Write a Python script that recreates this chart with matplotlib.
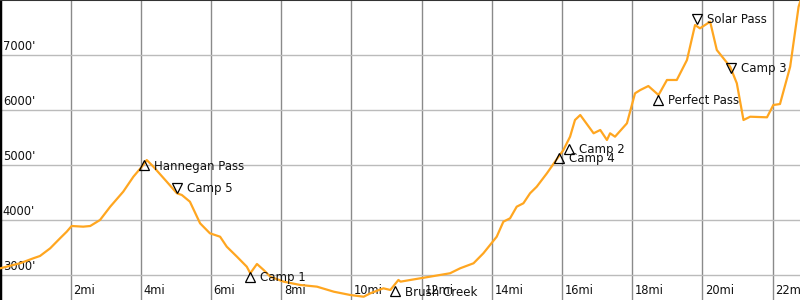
import matplotlib
matplotlib.use("Agg")
import matplotlib.pyplot as plt

# trail profile: distance (mi) and elevation (ft)
miles = [0.00, 0.56, 0.94, 1.13, 1.42, 1.70, 1.89, 2.03, 2.36, 2.56, 2.84, 3.13,
         3.50, 3.79, 4.03, 4.17, 4.36, 4.74, 5.03, 5.17, 5.40, 5.69, 5.97, 6.26,
         6.45, 6.74, 7.02, 7.12, 7.31, 7.50, 7.69, 8.07, 8.54, 9.02, 9.50, 9.97,
         10.35, 10.54, 10.91, 11.11, 11.34, 11.40, 11.68, 12.24, 12.81, 13.10,
         13.48, 13.76, 13.95, 14.14, 14.33, 14.52, 14.71, 14.90, 15.09, 15.28,
         15.57, 15.80, 16.04, 16.23, 16.37, 16.52, 16.90, 17.09, 17.28, 17.37,
         17.51, 17.85, 18.08, 18.23, 18.46, 18.75, 18.99, 19.27, 19.56, 19.79,
         19.93, 20.22, 20.41, 20.79, 20.98, 21.17, 21.36, 21.84, 22.02, 22.21,
         22.50, 22.74, 22.85]
elev = [3115, 3206, 3297, 3339, 3479, 3661, 3781, 3885, 3873, 3885, 3995, 4237,
        4510, 4783, 4965, 5087, 4965, 4692, 4481, 4450, 4328, 3934, 3752, 3690,
        3508, 3326, 3144, 3024, 3193, 3084, 2962, 2871, 2811, 2780, 2688, 2628,
        2597, 2659, 2750, 2720, 2902, 2871, 2902, 2962, 3024, 3115,
        3206, 3388, 3539, 3690, 3964, 4025, 4237, 4299, 4481, 4601,
        4845, 5056, 5270, 5512, 5816, 5907, 5574, 5634, 5452, 5574,
        5512, 5756, 6302, 6362, 6435, 6271, 6545, 6545, 6909, 7546,
        7486, 7607, 7091, 6787, 6485, 5816, 5876, 5865, 6089, 6107,
        6787, 7880, 8100]

# waypoints
wp_names = ["Hannegan Pass", "Camp 5", "Camp 1", "Brush Creek", "Camp 4",
            "Camp 2", "Perfect Pass", "Solar Pass", "Camp 3"]
wp_miles = [4.10, 5.03, 7.12, 11.25, 15.92, 16.20, 18.74, 19.84, 20.82]
wp_elev = [4990, 4577, 2965, 2692, 5124, 5288, 6189, 7656, 6769]
wp_marker = ["^", "v", "^", "^", "^", "^", "^", "v", "v"]

x_ticks = [2, 4, 6, 8, 10, 12, 14, 16, 18, 20, 22]
y_ticks = [3000, 4000, 5000, 6000, 7000]

fig = plt.figure(figsize=(8, 3), dpi=100)
ax = fig.add_axes([0, 0, 1, 1])
ax.set_xlim(-0.01, 22.78)
ax.set_ylim(2537, 8002)

for t in x_ticks:
    ax.axvline(t, color="#8a8a8a", lw=1, zorder=1)
    ax.annotate("%dmi" % t, (t, 0), xycoords=ax.get_xaxis_transform(),
                xytext=(2, 2), textcoords="offset points", fontsize=8.3,
                ha="left", va="bottom", color="#111111")
for t in y_ticks:
    ax.axhline(t, color="#bbbbbb", lw=1, zorder=1)
    ax.annotate("%d'" % t, (0, t), xycoords=ax.get_yaxis_transform(),
                xytext=(2, 1.5), textcoords="offset points", fontsize=8.3,
                ha="left", va="bottom", color="#111111")

ax.plot(miles, elev, color="#ffa620", lw=1.6, zorder=3, solid_joinstyle="round")

for name, m, e, mk in zip(wp_names, wp_miles, wp_elev, wp_marker):
    ax.plot(m, e, marker=mk, ms=7.5, mfc="none", mec="black", mew=0.9, zorder=4)
    ax.annotate(name, (m, e), xytext=(7, -0.5), textcoords="offset points",
                fontsize=8.5, ha="left", va="center", color="#111111", zorder=5)

ax.set_xticks([])
ax.set_yticks([])
ax.spines["right"].set_visible(False)
ax.spines["bottom"].set_visible(False)
ax.spines["top"].set_color("#333333")
ax.spines["top"].set_linewidth(1.5)
ax.spines["left"].set_color("black")
ax.spines["left"].set_linewidth(2.5)

fig.savefig("out.png", dpi=100)
